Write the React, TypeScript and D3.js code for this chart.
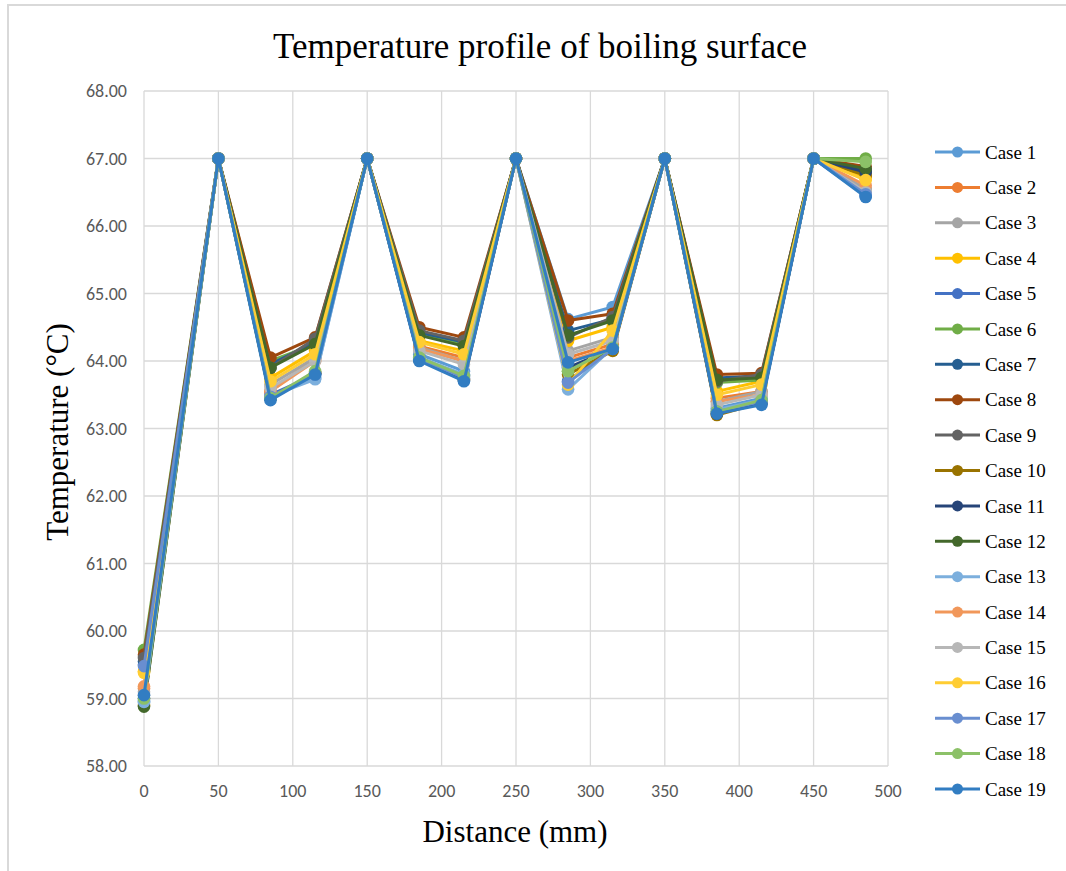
import React from "react";
import * as d3 from "d3";

const distances = [0, 50, 85, 115, 150, 185, 215, 250, 285, 315, 350, 385, 415, 450, 485];
const caseNames = Array.from({ length: 19 }, (_, i) => `Case ${i + 1}`);
const colors = [
  "#5B9BD5", "#ED7D31", "#A5A5A5", "#FFC000", "#4472C4", "#70AD47", "#255E91",
  "#9E480E", "#636363", "#997300", "#264478", "#43682B", "#7CAFDD", "#F1975A",
  "#B7B7B7", "#FFCD33", "#698ED0", "#8CC168", "#327DC2",
];

const case1 = [58.95, 67, 63.5, 63.75, 67, 64.1, 63.85, 67, 64.62, 64.8, 67, 63.3, 63.45, 67, 66.5];
const case2 = [59.15, 67, 63.55, 64.05, 67, 64.22, 64.05, 67, 64.05, 64.25, 67, 63.45, 63.55, 67, 66.72];
const case3 = [59.1, 67, 63.65, 64.05, 67, 64.2, 64.0, 67, 64.15, 64.35, 67, 63.4, 63.55, 67, 66.55];
const case4 = [59.4, 67, 63.75, 64.15, 67, 64.3, 64.15, 67, 64.3, 64.5, 67, 63.55, 63.7, 67, 66.7];
const case5 = [59.5, 67, 63.5, 63.8, 67, 64.05, 63.78, 67, 63.7, 64.2, 67, 63.25, 63.4, 67, 66.45];
const case6 = [59.72, 67, 64.0, 64.25, 67, 64.4, 64.25, 67, 63.85, 64.2, 67, 63.68, 63.72, 67, 67.0];
const case7 = [59.55, 67, 63.95, 64.28, 67, 64.42, 64.28, 67, 64.45, 64.62, 67, 63.75, 63.78, 67, 66.82];
const case8 = [59.65, 67, 64.05, 64.35, 67, 64.5, 64.35, 67, 64.6, 64.7, 67, 63.8, 63.82, 67, 66.88];
const case9 = [59.6, 67, 63.9, 64.33, 67, 64.45, 64.3, 67, 64.35, 64.65, 67, 63.7, 63.8, 67, 66.78];
const case10 = [58.9, 67, 63.45, 63.82, 67, 64.02, 63.72, 67, 63.8, 64.15, 67, 63.2, 63.38, 67, 66.75];
const case11 = [59.0, 67, 63.45, 63.82, 67, 64.02, 63.72, 67, 63.9, 64.18, 67, 63.22, 63.38, 67, 66.8];
const case12 = [58.88, 67, 63.9, 64.25, 67, 64.38, 64.22, 67, 64.38, 64.6, 67, 63.72, 63.75, 67, 66.85];
const case13 = [58.95, 67, 63.48, 63.73, 67, 64.05, 63.8, 67, 63.58, 64.2, 67, 63.28, 63.42, 67, 66.48];
const case14 = [59.18, 67, 63.55, 64.0, 67, 64.18, 64.0, 67, 64.0, 64.2, 67, 63.4, 63.5, 67, 66.6];
const case15 = [59.05, 67, 63.6, 64.0, 67, 64.15, 63.95, 67, 64.1, 64.3, 67, 63.35, 63.5, 67, 66.5];
const case16 = [59.38, 67, 63.7, 64.1, 67, 64.28, 64.1, 67, 63.65, 64.45, 67, 63.5, 63.65, 67, 66.68];
const case17 = [59.48, 67, 63.47, 63.8, 67, 64.03, 63.75, 67, 63.68, 64.18, 67, 63.25, 63.4, 67, 66.47];
const case18 = [59.0, 67, 63.45, 63.85, 67, 64.05, 63.78, 67, 63.85, 64.2, 67, 63.25, 63.42, 67, 66.95];
const case19 = [59.05, 67, 63.42, 63.8, 67, 64.0, 63.7, 67, 63.98, 64.18, 67, 63.22, 63.35, 67, 66.43];

const seriesValues = [
  case1, case2, case3, case4, case5, case6, case7, case8, case9, case10,
  case11, case12, case13, case14, case15, case16, case17, case18, case19,
];

const xTicks = [0, 50, 100, 150, 200, 250, 300, 350, 400, 450, 500];
const yTicks = [58, 59, 60, 61, 62, 63, 64, 65, 66, 67, 68];

export default function App() {
  const W = 1066;
  const H = 871;
  const x = d3.scaleLinear().domain([0, 500]).range([144, 888]);
  const y = d3.scaleLinear().domain([58, 68]).range([766, 91]);
  const line = d3
    .line<number>()
    .x((_, i) => x(distances[i]))
    .y((d) => y(d));

  const legendY = d3.scaleLinear().domain([0, 18]).range([152, 789]);
  const tickFont = "Calibri, Carlito, 'Liberation Sans', Arial, sans-serif";
  const serif = "'Times New Roman', 'Liberation Serif', serif";

  return (
    <svg
      width={W}
      height={H}
      style={{ position: "absolute", left: 0, top: 0, background: "#fff" }}
    >
      <rect x={8} y={5} width={W + 10} height={H + 10} fill="#fff" stroke="#d9d9d9" strokeWidth={2} />
      {/* gridlines */}
      {yTicks.map((t) => (
        <line key={"gy" + t} x1={144} x2={888} y1={y(t)} y2={y(t)} stroke="#d9d9d9" strokeWidth={1.3} />
      ))}
      {xTicks.map((t) => (
        <line key={"gx" + t} x1={x(t)} x2={x(t)} y1={91} y2={766} stroke="#d9d9d9" strokeWidth={1.3} />
      ))}
      {/* tick labels */}
      {yTicks.map((t) => (
        <text
          key={"ty" + t}
          x={127}
          y={y(t)}
          dy="0.35em"
          textAnchor="end"
          fontFamily={tickFont}
          fontSize={18}
          fill="#595959"
        >
          {t.toFixed(2)}
        </text>
      ))}
      {xTicks.map((t) => (
        <text
          key={"tx" + t}
          x={x(t)}
          y={791}
          dy="0.35em"
          textAnchor="middle"
          fontFamily={tickFont}
          fontSize={18}
          fill="#595959"
        >
          {t}
        </text>
      ))}
      {/* series */}
      {seriesValues.map((vals, si) => (
        <g key={"s" + si}>
          <path d={line(vals) || ""} fill="none" stroke={colors[si]} strokeWidth={3} strokeLinejoin="round" />
          {vals.map((v, i) => (
            <circle key={i} cx={x(distances[i])} cy={y(v)} r={6.3} fill={colors[si]} />
          ))}
        </g>
      ))}
      {/* title and axis labels */}
      <text x={540} y={58} textAnchor="middle" fontFamily={serif} fontSize={35} fill="#000">
        Temperature profile of boiling surface
      </text>
      <text
        transform={`translate(68,432) rotate(-90)`}
        textAnchor="middle"
        fontFamily={serif}
        fontSize={31}
        fill="#000"
      >
        Temperature (°C)
      </text>
      <text x={515} y={842} textAnchor="middle" fontFamily={serif} fontSize={31} fill="#000">
        Distance (mm)
      </text>
      {/* legend */}
      {caseNames.map((name, i) => (
        <g key={"l" + i}>
          <line x1={935} x2={980} y1={legendY(i)} y2={legendY(i)} stroke={colors[i]} strokeWidth={3} />
          <circle cx={957.5} cy={legendY(i)} r={5.5} fill={colors[i]} />
          <text x={985} y={legendY(i)} dy="0.35em" fontFamily={serif} fontSize={19} fill="#000">
            {name}
          </text>
        </g>
      ))}
    </svg>
  );
}
